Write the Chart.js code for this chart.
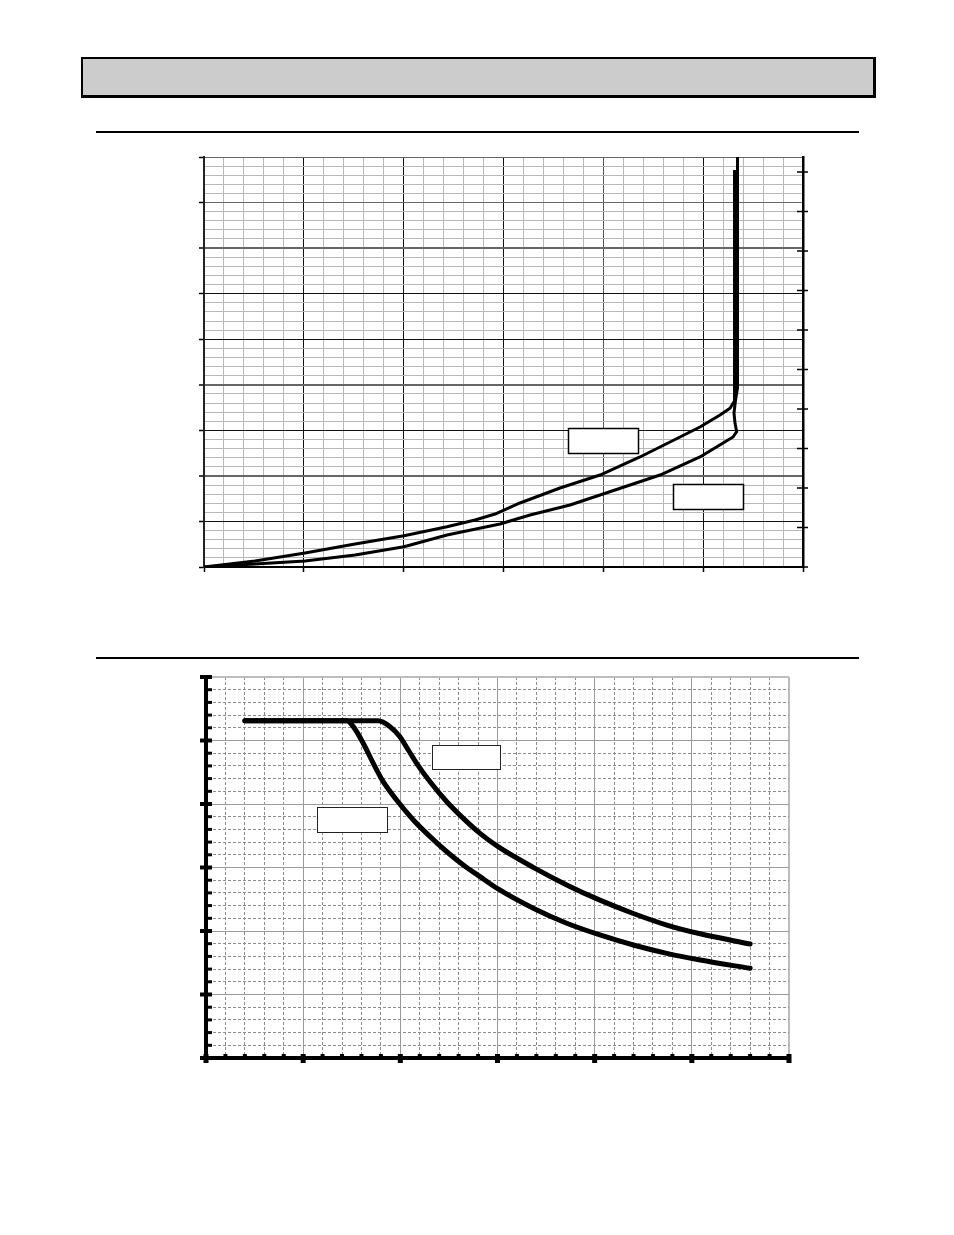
<!DOCTYPE html>
<html>
<head>
<meta charset="utf-8">
<script src="https://cdn.jsdelivr.net/npm/chart.js@4.4.1/dist/chart.umd.min.js"></script>
<style>
  html, body { margin: 0; padding: 0; background: #fff; }
  body { width: 954px; height: 1235px; position: relative; overflow: hidden; font-family: "Liberation Sans", Arial, sans-serif; }
  .header { position: absolute; left: 81px; top: 57px; width: 795px; height: 41px; box-sizing: border-box; background: #cccccc; border: 2px solid #000; border-right-width: 3px; border-bottom-width: 3px; }
  .rule { position: absolute; left: 96px; width: 763px; height: 2px; background: #000; }
  canvas { position: absolute; }
</style>
</head>
<body>
<div class="header"></div>
<div class="rule" style="top:131px"></div>
<div class="rule" style="top:657px"></div>
<canvas id="c1"></canvas>
<canvas id="c2"></canvas>
<script>
// ---------------- DATA ----------------
// Chart 1: x 0..60 (major every 10), y 0..90 (major every 10); right axis 0..10 ticks
const chart1UpperX = [0, 5.11, 10.12, 15.13, 20.03, 24.34, 27.15, 29.15, 31.65, 35.66, 39.67, 43.67, 46.68, 49.68, 51.69, 52.69, 53.14, 53.14];
const chart1UpperY = [0, 1.32, 3.07, 5.05, 6.87, 8.85, 10.32, 11.63, 14.05, 17.34, 20.19, 24.15, 27.44, 30.73, 33.37, 34.84, 36.44, 87.14];
const chart1LowerX = [0, 5.11, 10.12, 15.13, 20.03, 24.34, 29.65, 32.66, 36.66, 39.67, 45.68, 49.68, 52.99, 53.36, 53.19, 53.09, 53.24, 53.44, 53.44];
const chart1LowerY = [0, 0.66, 1.32, 2.63, 4.46, 7.02, 9.44, 11.41, 13.61, 15.80, 20.19, 24.15, 28.54, 29.70, 31.54, 33.80, 36.66, 39.29, 90];
const chart1XRange = [0, 60];
const chart1YRange = [0, 90];
const chart1RightRange = [0, 10.38];
// empty label boxes, in data units [x1, x2, yTop, yBottom]
const chart1LabelBoxes = [[36.46, 43.47, 30.51, 25.02], [46.98, 53.99, 18.22, 12.73]];

// Chart 2: x 0..30 (major every 5), y 0..30 (major every 5)
const chart2UpperX = [2, 8.85, 9.47, 9.98, 10.41, 10.84, 11.53, 12.39, 13.24, 14.10, 15.03, 16.84, 18.56, 20.27, 21.99, 23.71, 25.43, 28];
const chart2UpperY = [26.55, 26.55, 26.09, 25.30, 24.25, 23.20, 21.75, 20.18, 18.87, 17.69, 16.64, 15.01, 13.63, 12.43, 11.38, 10.47, 9.78, 8.98];
const chart2LowerX = [2, 7.24, 7.58, 8.09, 8.61, 9.12, 9.81, 10.67, 11.53, 12.39, 13.24, 14.10, 15.03, 16.84, 18.56, 20.27, 21.99, 23.71, 25.43, 28];
const chart2LowerY = [26.55, 26.55, 26.09, 24.78, 23.20, 21.76, 20.31, 18.74, 17.43, 16.24, 15.20, 14.28, 13.31, 11.79, 10.61, 9.69, 8.90, 8.24, 7.72, 7.06];
const chart2XRange = [0, 30];
const chart2YRange = [0, 30];
const chart2LabelBoxes = [[11.61, 15.15, 24.65, 22.76], [5.70, 9.30, 19.76, 17.80]];

// ---------------- helpers ----------------
const zip = (xs, ys) => xs.map((x, i) => ({ x: x, y: ys[i] }));

const tickMarks = {
  id: 'tickMarks',
  afterDraw(chart, args, opts) {
    const ctx = chart.ctx, ca = chart.chartArea;
    (opts.marks || []).forEach(m => {
      const s = chart.scales[m.scale];
      ctx.save();
      ctx.fillStyle = '#000';
      s.ticks.forEach(t => {
        const major = Math.abs(t.value % m.major) < 1e-6;
        const spec = major ? m.majorSpec : m.minorSpec;
        if (!spec) return;
        const p = s.getPixelForValue(t.value);
        if (s.isHorizontal()) {
          const y = ca.bottom;
          ctx.fillRect(p - spec.w / 2, y - spec.in, spec.w, spec.in + spec.out);
        } else if (m.side === 'right') {
          const x = ca.right;
          ctx.fillRect(x - spec.in, p - spec.w / 2, spec.in + spec.out, spec.w);
        } else {
          const x = ca.left;
          ctx.fillRect(x - spec.out, p - spec.w / 2, spec.in + spec.out, spec.w);
        }
      });
      ctx.restore();
    });
  }
};

const labelBoxes = {
  id: 'labelBoxes',
  afterDraw(chart, args, opts) {
    const ctx = chart.ctx, sx = chart.scales.x, sy = chart.scales.y;
    ctx.save();
    (opts.boxes || []).forEach(b => {
      const x1 = Math.round(sx.getPixelForValue(b[0])) + 0.5;
      const x2 = Math.round(sx.getPixelForValue(b[1])) + 0.5;
      const y1 = Math.round(sy.getPixelForValue(b[2])) + 0.5;
      const y2 = Math.round(sy.getPixelForValue(b[3])) + 0.5;
      ctx.fillStyle = '#fff';
      ctx.fillRect(x1, y1, x2 - x1, y2 - y1);
      ctx.lineWidth = opts.lineWidth || 1;
      ctx.strokeStyle = opts.color || '#000';
      ctx.strokeRect(x1, y1, x2 - x1, y2 - y1);
    });
    ctx.restore();
  }
};

function place(canvasId, makeConfig, target) {
  const canvas = document.getElementById(canvasId);
  canvas.width = 500; canvas.height = 400;
  canvas.style.width = '500px'; canvas.style.height = '400px';
  let ch = new Chart(canvas, makeConfig());
  const ca = ch.chartArea;
  const L = ca.left, T = ca.top, R = 500 - ca.right, B = 400 - ca.bottom;
  ch.destroy();
  const W = Math.round(target.right - target.left + L + R);
  const H = Math.round(target.bottom - target.top + T + B);
  canvas.width = W; canvas.height = H;
  canvas.style.width = W + 'px'; canvas.style.height = H + 'px';
  canvas.style.left = (target.left - L) + 'px';
  canvas.style.top = (target.top - T) + 'px';
  return new Chart(canvas, makeConfig());
}

// ---------------- Chart 1 ----------------
function config1() {
  const lineStyle = { showLine: true, borderColor: '#000', borderWidth: 3, pointRadius: 0, tension: 0, fill: false, borderJoinStyle: 'round', borderCapStyle: 'butt' };
  return {
    type: 'scatter',
    data: {
      datasets: [
        Object.assign({ data: zip(chart1UpperX, chart1UpperY) }, lineStyle),
        Object.assign({ data: zip(chart1LowerX, chart1LowerY) }, lineStyle)
      ]
    },
    options: {
      animation: false, responsive: false, events: [],
      layout: { padding: { top: 4, right: 12, bottom: 4, left: 4 } },
      plugins: {
        legend: { display: false }, tooltip: { enabled: false },
        tickMarks: { marks: [{ scale: 'y2', side: 'right', major: 1, majorSpec: { w: 1.5, in: 6, out: 5 } }] },
        labelBoxes: { boxes: chart1LabelBoxes, lineWidth: 1.5, color: '#000' }
      },
      scales: {
        x: {
          type: 'linear', min: chart1XRange[0], max: chart1XRange[1],
          ticks: { stepSize: 2, display: false, autoSkip: false, maxTicksLimit: 1000 },
          grid: {
            color: c => { const v = c.tick.value; if (v % 10) return '#b8b8b8'; return v === 40 ? '#555' : '#111'; },
            lineWidth: 1,
            tickColor: c => (c.tick.value % 10 ? 'rgba(0,0,0,0)' : '#000'),
            tickLength: 5, tickWidth: 1.5
          },
          border: { color: '#000', width: 2 }
        },
        y: {
          type: 'linear', min: chart1YRange[0], max: chart1YRange[1],
          ticks: { stepSize: 2, display: false, autoSkip: false, maxTicksLimit: 1000 },
          grid: {
            color: c => { const v = c.tick.value; if (v % 10) return '#b8b8b8'; return [20, 40, 70, 80, 90].includes(v) ? '#666' : '#111'; },
            lineWidth: c => ([20, 40, 70].includes(c.tick.value) ? 2 : 1),
            tickColor: c => (c.tick.value % 10 ? 'rgba(0,0,0,0)' : '#000'),
            tickLength: 5, tickWidth: 1.5
          },
          border: { color: '#222', width: 2 }
        },
        y2: {
          type: 'linear', position: 'right', min: chart1RightRange[0], max: chart1RightRange[1],
          ticks: { stepSize: 1, display: false, autoSkip: false, maxTicksLimit: 1000 },
          grid: { drawOnChartArea: false, drawTicks: false },
          border: { color: '#000', width: 2.5 }
        }
      }
    },
    plugins: [tickMarks, labelBoxes]
  };
}

// ---------------- Chart 2 ----------------
function config2() {
  const lineStyle = { showLine: true, borderColor: '#000', borderWidth: 5, pointRadius: 0, cubicInterpolationMode: 'monotone', fill: false, borderJoinStyle: 'round', borderCapStyle: 'round' };
  const gridColor = c => { const v = c.tick.value; if (v === 30) return '#bdbdbd'; return v % 5 ? '#8c8c8c' : '#9a9a9a'; };
  const gridWidth = c => (c.tick.value === 30 ? 2 : 1);
  const gridDash = c => (c.tick && c.tick.value % 5 ? [3, 2] : []);
  return {
    type: 'scatter',
    data: {
      datasets: [
        Object.assign({ data: zip(chart2UpperX, chart2UpperY) }, lineStyle),
        Object.assign({ data: zip(chart2LowerX, chart2LowerY) }, lineStyle)
      ]
    },
    options: {
      animation: false, responsive: false, events: [],
      layout: { padding: 12 },
      plugins: {
        legend: { display: false }, tooltip: { enabled: false },
        tickMarks: {
          marks: [
            { scale: 'y', side: 'left', major: 5, majorSpec: { w: 4, in: 6, out: 6 }, minorSpec: { w: 3, in: 6, out: 0 } },
            { scale: 'x', major: 5, majorSpec: { w: 5, in: 4, out: 5 }, minorSpec: { w: 4, in: 4, out: 0 } }
          ]
        },
        labelBoxes: { boxes: chart2LabelBoxes, lineWidth: 1, color: '#222' }
      },
      scales: {
        x: {
          type: 'linear', min: chart2XRange[0], max: chart2XRange[1],
          ticks: { stepSize: 1, display: false, autoSkip: false, maxTicksLimit: 1000 },
          grid: { color: gridColor, lineWidth: gridWidth, drawTicks: false },
          border: { color: '#000', width: 4, dash: gridDash }
        },
        y: {
          type: 'linear', min: chart2YRange[0], max: chart2YRange[1],
          ticks: { stepSize: 1, display: false, autoSkip: false, maxTicksLimit: 1000 },
          grid: { color: gridColor, lineWidth: gridWidth, drawTicks: false },
          border: { color: '#000', width: 4, dash: gridDash }
        }
      }
    },
    plugins: [tickMarks, labelBoxes]
  };
}

place('c1', config1, { left: 204, top: 157, right: 803, bottom: 567 });
place('c2', config2, { left: 206, top: 677, right: 789, bottom: 1058 });
</script>
</body>
</html>
